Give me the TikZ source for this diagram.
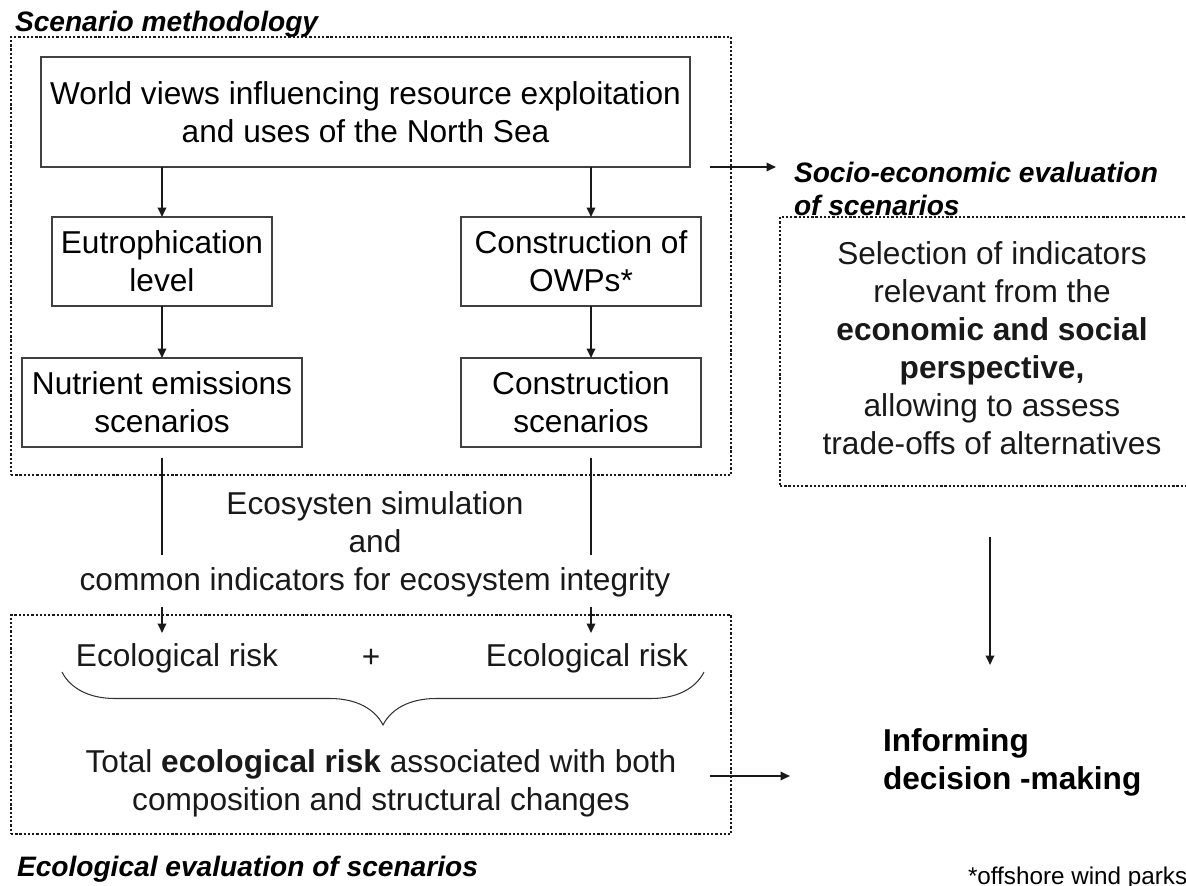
\documentclass[tikz,border=0pt]{standalone}
\usepackage{fontspec}
\setmainfont{Liberation Sans}
\usetikzlibrary{positioning}
\usetikzlibrary{arrows.meta,calc,decorations.pathreplacing}
\tikzset{
    %Define standard arrow tip
    >={Triangle[length=5.4pt,width=4.8pt]},
    % Define arrow style
    pil/.style={
           ->,
           color=black!90,
           line width=1.1pt,},
    plainline/.style={
           color=black!90,
           line width=1.1pt,}
}
\newcommand{\boxheight}{1.78cm}
\newcommand{\titlefont}{\fontsize{16pt}{18.5pt}\selectfont\bfseries\itshape}

\begin{document}
\begin{tikzpicture}[font=\fontsize{18pt}{21.6pt}\selectfont, outer sep=0pt]
\tikzstyle{basicbox}=[draw=black!75, fill=white, rectangle, line width=0.6pt,
    minimum height=\boxheight, align=center, inner sep=2pt]
%
\tikzstyle{dotbox}=[draw=black!90, rectangle, line width=1.5pt,
    dash pattern=on 1.3pt off 1.1pt, inner sep=0pt]
%
\tikzstyle{plaintext}=[align=center, inner sep=0pt, text=black!90]

\useasboundingbox (0cm,0cm) rectangle (23.72cm,-17.72cm);
\clip (0cm,0cm) rectangle (23.72cm,-17.72cm);

\node[dotbox, minimum width=14.4cm, minimum height=8.76cm] (scen) at (7.42cm,-5.12cm) {};
\node[dotbox, minimum width=14.4cm, minimum height=4.38cm] (eco) at (7.42cm,-14.49cm) {};
\node[dotbox, minimum width=8.4cm, minimum height=5.38cm] (socio) at (19.8cm,-7.03cm) {};

\node[basicbox, minimum width=12.98cm, minimum height=2.2cm] (world) at (7.31cm,-2.24cm) {World views influencing resource exploitation\\ and uses of the North Sea};
\node[basicbox, minimum width=4.4cm] (eutro) at (3.24cm,-5.23cm) {Eutrophication\\ level};
\node[basicbox, minimum width=5.6cm] (nutr) at (3.24cm,-8.05cm) {Nutrient emissions\\ scenarios};
\node[basicbox, minimum width=4.8cm] (owp) at (11.62cm,-5.23cm) {Construction of\\ OWPs*};
\node[basicbox, minimum width=4.8cm] (cscen) at (11.62cm,-8.05cm) {Construction\\ scenarios};

\coordinate (rcol) at (11.82cm,0cm);
\draw[pil] (world.south -| eutro.north) -- (eutro.north);
\draw[pil] (world.south -| rcol) -- (owp.north -| rcol);
\draw[pil] (eutro.south) -- (nutr.north);
\draw[pil] (owp.south -| rcol) -- (cscen.north -| rcol);

\node[plaintext] (sim) at (7.5cm,-10.89cm) {Ecosysten simulation\\ and\\ common indicators for ecosystem integrity};

\coordinate (simtop) at (0cm,-11.1cm);
\draw[plainline] ($(nutr.south)+(0,-0.22cm)$) -- (nutr.south |- simtop);
\draw[plainline] ($(cscen.south -| rcol)+(0,-0.22cm)$) -- (rcol |- simtop);
\draw[pil] ($(eco.north -| nutr.south)+(0,0.16cm)$) -- ($(eco.north -| nutr.south)+(0,-0.36cm)$);
\draw[pil] ($(eco.north -| rcol)+(0,0.16cm)$) -- ($(eco.north -| rcol)+(0,-0.36cm)$);

\node[plaintext] (riskl) at (3.54cm,-13.16cm) {Ecological risk};
\node[plaintext] (plus) at (7.42cm,-13.16cm) {+};
\node[plaintext] (riskr) at (11.74cm,-13.16cm) {Ecological risk};
\draw[decorate, decoration={brace, mirror, amplitude=1.06cm}, line width=0.6pt, black!80]
    (1.24cm,-13.44cm) -- (14.08cm,-13.44cm);
\node[plaintext] (total) at (7.62cm,-15.66cm) {Total \textbf{ecological risk} associated with both\\ composition and structural changes};

\node[plaintext] (select) at (19.84cm,-6.96cm) {Selection of indicators\\ relevant from the\\ \textbf{economic and social}\\ \textbf{perspective,}\\ allowing to assess\\ trade-offs of alternatives};
\node[anchor=west, align=left, inner sep=0pt, font=\fontsize{18pt}{21.6pt}\selectfont\bfseries] (inform) at (17.66cm,-15.25cm) {Informing\\ decision -making};

\node[anchor=base west, inner sep=0pt, font=\titlefont] (scentitle) at (0.3cm,-0.62cm) {Scenario methodology};
\node[anchor=base west, inner sep=0pt, font=\titlefont] (ecotitle) at (0.34cm,-17.52cm) {Ecological evaluation of scenarios};
\node[anchor=west, align=left, inner sep=0pt, font=\titlefont] (sociotitle) at (15.88cm,-3.78cm) {Socio-economic evaluation\\ of scenarios};
\node[anchor=base west, inner sep=0pt, font=\fontsize{13.8pt}{16pt}\selectfont] (owpnote) at (19.36cm,-17.68cm) {*offshore wind parks};

\coordinate (socioend) at (15.52cm,-3.34cm);
\draw[pil] ($(scen.east |- socioend)+(-0.42cm,0)$) -- (socioend);
\coordinate (informend) at (15.8cm,-15.52cm);
\draw[pil] ($(eco.east |- informend)+(-0.42cm,0)$) -- (informend);
\draw[pil] ($(socio.south)+(0,-1.02cm)$) -- ($(socio.south)+(0,-3.58cm)$);

\end{tikzpicture}
\end{document}
